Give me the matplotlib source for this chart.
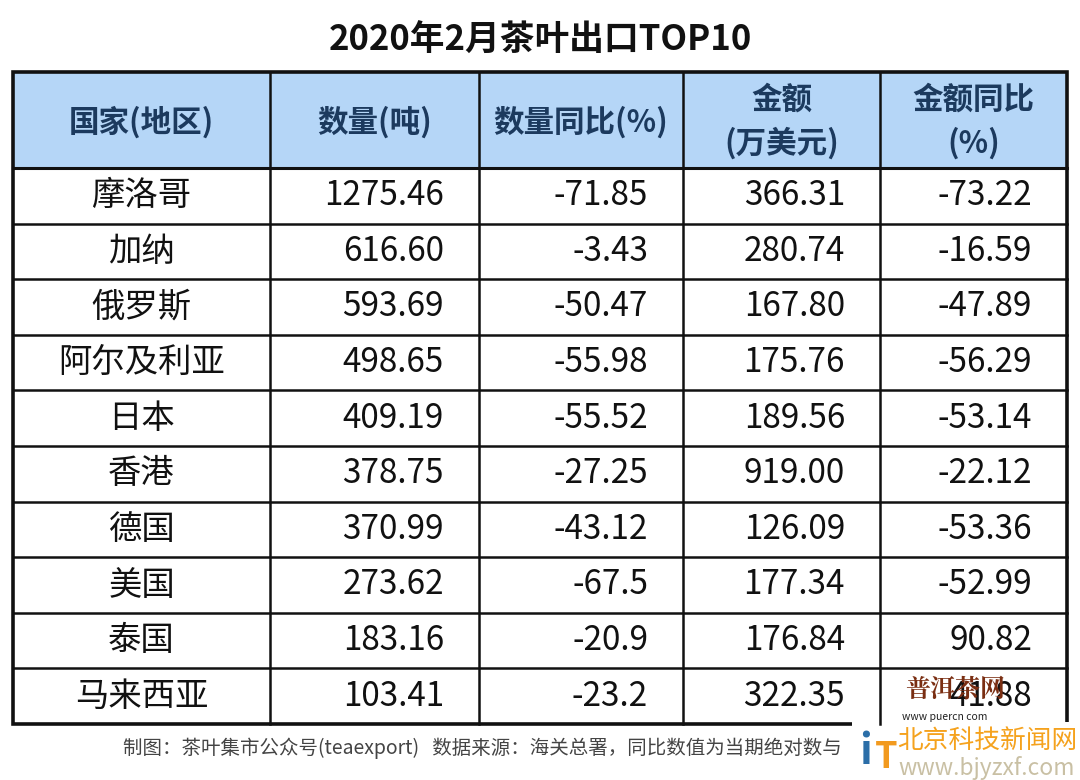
import matplotlib.pyplot as plt
from matplotlib.patches import Rectangle

plt.rcParams['font.family'] = ['Noto Sans CJK SC', 'DejaVu Sans']

# ---- data ----
title = "2020年2月茶叶出口TOP10"
headers = ["国家(地区)", "数量(吨)", "数量同比(%)", "金额\n(万美元)", "金额同比\n(%)"]
countries = ["摩洛哥", "加纳", "俄罗斯", "阿尔及利亚", "日本",
             "香港", "德国", "美国", "泰国", "马来西亚"]
quantity = ["1275.46", "616.60", "593.69", "498.65", "409.19",
            "378.75", "370.99", "273.62", "183.16", "103.41"]
quantity_yoy = ["-71.85", "-3.43", "-50.47", "-55.98", "-55.52",
                "-27.25", "-43.12", "-67.5", "-20.9", "-23.2"]
amount = ["366.31", "280.74", "167.80", "175.76", "189.56",
          "919.00", "126.09", "177.34", "176.84", "322.35"]
amount_yoy = ["-73.22", "-16.59", "-47.89", "-56.29", "-53.14",
              "-22.12", "-53.36", "-52.99", "90.82", "41.88"]
# footer is cut off by the watermark in the original
footer = "制图：茶叶集市公众号(teaexport)   数据来源：海关总署，同比数值为当期绝对数与"

# ---- layout (pixel units) ----
W, H = 1080, 780
col_x = [13, 270, 479, 683, 880, 1067]
head_top, head_bot = 72, 168
row_h = 55.6
pad_r = 35

fig = plt.figure(figsize=(W / 100, H / 100), dpi=100)
ax = fig.add_axes([0, 0, 1, 1])
ax.set_xlim(0, W)
ax.set_ylim(H, 0)
ax.axis('off')

ax.text(W / 2, 40, title, ha='center', va='center', fontsize=25,
        fontweight='bold', color='#111111')

# header
ax.add_patch(Rectangle((col_x[0], head_top), col_x[-1] - col_x[0],
                       head_bot - head_top, facecolor='#b5d6f7', edgecolor='none'))
for i, h in enumerate(headers):
    cx = (col_x[i] + col_x[i + 1]) / 2
    ax.text(cx, (head_top + head_bot) / 2 + 2, h, ha='center', va='center',
            fontsize=22, fontweight='bold', color='#1c3a5e', linespacing=1.45)

# body
columns = [quantity, quantity_yoy, amount, amount_yoy]
n = len(countries)
for r in range(n):
    yc = head_bot + row_h * (r + 0.5)
    ax.text((col_x[0] + col_x[1]) / 2, yc, countries[r], ha='center', va='center',
            fontsize=24, color='#111111')
    for c, vals in enumerate(columns):
        ax.text(col_x[c + 2] - pad_r, yc, vals[r], ha='right', va='center',
                fontsize=24, color='#111111')

table_bot = head_bot + row_h * n
# grid lines
for r in range(1, n):
    y = head_bot + row_h * r
    ax.plot([col_x[0], col_x[-1]], [y, y], color='#111111', lw=1.8)
ax.plot([col_x[0], col_x[-1]], [head_bot, head_bot], color='#111111', lw=2.2)
for x in col_x[1:-1]:
    ax.plot([x, x], [head_top, table_bot], color='#111111', lw=1.8)
ax.add_patch(Rectangle((col_x[0], head_top), col_x[-1] - col_x[0],
                       table_bot - head_top, facecolor='none',
                       edgecolor='#111111', lw=2.6))

ax.text(123, 748, footer, ha='left', va='center', fontsize=14, color='#444444')

# watermarks (they sit over the last cell in the original too)
ax.text(955, 690, "普洱茶网", ha='center', va='center', fontsize=18,
        fontweight='bold', color='#7a2e12', family=['Noto Serif CJK SC', 'Noto Sans CJK SC'])
ax.text(945, 717, "www puercn com", ha='center', va='center', fontsize=7.5,
        color='#222222')
ax.add_patch(Rectangle((852, 722), 228, 58, facecolor='white', edgecolor='none'))
ax.text(866, 752, "i", ha='center', va='center', fontsize=30, fontweight='bold',
        color='#2b6ea8')
ax.text(886, 757, "T", ha='center', va='center', fontsize=26, fontweight='bold',
        color='#f29a1f')
ax.text(987, 741, "北京科技新闻网", ha='center', va='center', fontsize=18.5,
        color='#f5a21d')
ax.text(987, 768, "www.bjyzxf.com", ha='center', va='center', fontsize=16.5,
        color='#c9c0a4')

fig.savefig("out.png", dpi=100, facecolor='white')
